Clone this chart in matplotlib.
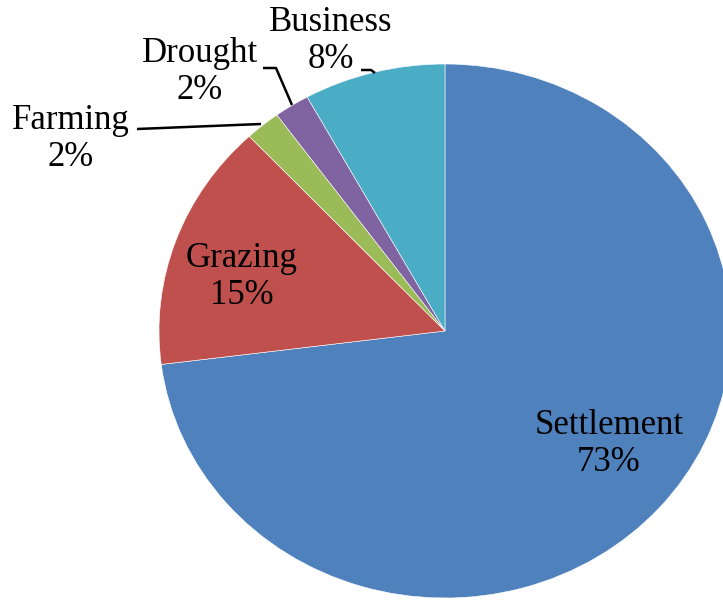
import matplotlib
matplotlib.use("Agg")
import matplotlib.pyplot as plt

categories = ["Settlement", "Grazing", "Farming", "Drought", "Business"]
values = [73, 15, 2, 2, 8]
colors = ["#4F81BD", "#C0504D", "#9BBB59", "#8064A2", "#4BACC6"]

W, H = 723, 601
fig = plt.figure(figsize=(W / 100, H / 100), dpi=100)
ax = fig.add_axes([0, 0, 1, 1])

ax.pie(values, colors=colors, startangle=90, counterclock=False,
       radius=1.0, wedgeprops=dict(edgecolor="white", linewidth=0.4))

# pie centre at pixel (445, 331); radii 286 px (x) and 267 px (y)
cx, cy, rx, ry = 445.0, 331.0, 286.0, 267.0
ax.set_aspect("auto")
ax.set_xlim(-cx / rx, (W - cx) / rx)
ax.set_ylim(-(H - cy) / ry, cy / ry)
ax.axis("off")


def P(px, py):
    return ((px - cx) / rx, (cy - py) / ry)


font = dict(family=["Liberation Serif", "DejaVu Serif"], fontsize=25,
            color="black", ha="center", va="center", linespacing=1.15)

label_pos = {
    "Settlement": (609, 444),
    "Grazing": (242, 277),
    "Farming": (71, 139),
    "Drought": (200, 72),
    "Business": (331, 41),
}
for name, v in zip(categories, values):
    x, y = P(*label_pos[name])
    ax.text(x, y, f"{name}\n{v}%", **font)

# leader lines
leaders = {
    "Farming": [(137, 129), (261, 124)],
    "Drought": [(263, 68), (276, 68), (292, 105)],
    "Business": [(361, 70), (371, 70), (375, 73)],
}
for pts in leaders.values():
    xs, ys = zip(*[P(*p) for p in pts])
    ax.plot(xs, ys, color="black", linewidth=1.8, solid_capstyle="butt")

fig.savefig("out.png", dpi=100)
